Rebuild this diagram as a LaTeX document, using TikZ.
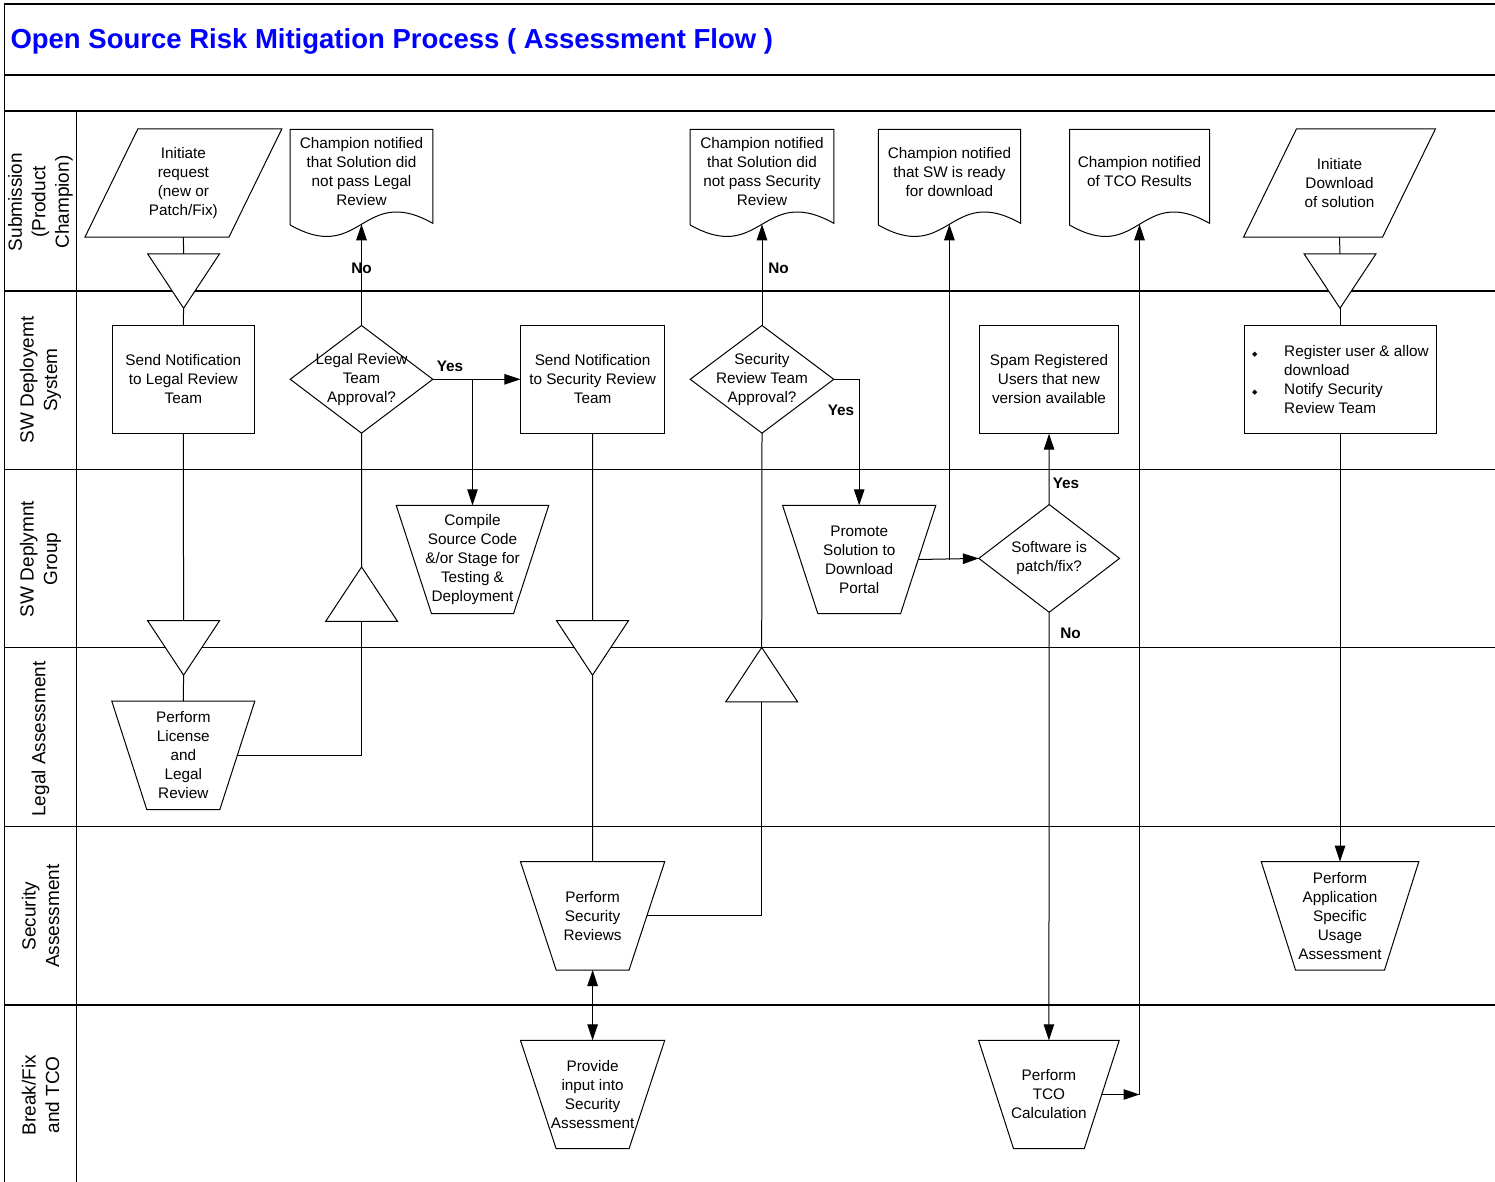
\documentclass[tikz,border=0pt]{standalone}
\usepackage{fontspec}
\setmainfont{Liberation Sans}
\newfontfamily\symfont{DejaVu Sans}
\usetikzlibrary{arrows.meta,calc}

\newcommand{\bul}{\makebox[33pt][l]{\hspace{1pt}\symfont\fontsize{7}{7}\selectfont ◆}}
\newcommand{\indentline}{\hspace*{33pt}}

% outlines drawn round plain rectangle nodes
\newcommand{\docline}[1]{%
  \draw (#1.north west) -- (#1.north east) -- ($(#1.north east)+(0,94)$)
    .. controls ($(#1.north)+(0,54)$) and ($(#1.north)+(0,136)$) .. ($(#1.north west)+(0,95.7)$) -- cycle;
  \coordinate (#1-tip) at ($(#1.north)+(0,95)$);}
\newcommand{\trapline}[2]{%
  \draw (#1.north west) -- (#1.north east) -- ($(#1.south east)+(-#2,0)$) -- ($(#1.south west)+(#2,0)$) -- cycle;
  \coordinate (#1-e) at ($(#1.east)+(-#2/2,0)$);}
\newcommand{\slantline}[2]{%
  \draw ($(#1.north west)+(#2,0)$) -- ($(#1.north east)+(#2,0)$) -- ($(#1.south east)+(-#2,0)$) -- ($(#1.south west)+(-#2,0)$) -- cycle;}
\newcommand{\diamline}[1]{\draw (#1.north) -- (#1.east) -- (#1.south) -- (#1.west) -- cycle;}
\newcommand{\downtri}[1]{\filldraw[fill=white] (#1.north west) -- (#1.north east) -- (#1.south) -- cycle;}
\newcommand{\uptri}[1]{\filldraw[fill=white] (#1.south west) -- (#1.south east) -- (#1.north) -- cycle;}

\tikzset{
  lanerule/.style={line width=1.5pt},
  body/.style={font=\fontsize{15.3}{19}\selectfont},
  shapebox/.style={body, inner sep=0pt, align=center, minimum height=107.4pt},
  tribox/.style={inner sep=0pt, minimum width=71pt, minimum height=53.5pt},
  answer/.style={font=\fontsize{15.3}{19}\selectfont\bfseries},
  lanename/.style={rotate=90, align=center, font=\fontsize{19}{23.5}\selectfont},
  flow/.style={-{Triangle[length=16pt,width=10.5pt]}},
}

\begin{document}
\begin{tikzpicture}[x=1pt, y=-1pt, line width=1pt]
  \useasboundingbox (0,0) rectangle (1495,1182);
  % Frame and lanes
  \draw[lanerule] (4.5,1182) -- (4.5,4) -- (1495,4);
  \foreach \y in {75,111,291,469.3,647.7,826.7,1005}
    \draw[lanerule] (4.5,\y) -- (1495,\y);
  \draw[lanerule] (76.3,111) -- (76.3,1182);

  % Title
  \node[anchor=base west, inner sep=0pt, text=blue, font=\fontsize{27.5}{32}\selectfont\bfseries] (title) at (10,48.5)
    {Open Source Risk Mitigation Process ( Assessment Flow )};

  % Lane names
  \node[lanename] (lane1) at (40.5,202) {Submission\\(Product\\Champion)};
  \node[lanename] (lane2) at (40.5,380) {SW Deployemt\\System};
  \node[lanename] (lane3) at (40.5,559) {SW Deplymnt\\Group};
  \node[lanename] (lane4) at (40.5,739) {Legal Assessment};
  \node[lanename] (lane5) at (40.5,916) {Security\\Assessment};
  \node[lanename] (lane6) at (40.5,1095) {Break/Fix\\and TCO};

  % Submission
  \node[shapebox, minimum width=143pt] (initreq) at (183.4,183) {Initiate\\request\\(new or\\Patch/Fix)};
  \slantline{initreq}{26.5}
  \node[shapebox, anchor=north, minimum height=84pt, minimum width=141.6pt] (legaldoc) at (361.5,129.3)
    {Champion notified\\that Solution did\\not pass Legal\\Review};
  \docline{legaldoc}
  \node[shapebox, anchor=north, minimum height=84pt, minimum width=142.6pt] (secdoc) at (762,129.3)
    {Champion notified\\that Solution did\\not pass Security\\Review};
  \docline{secdoc}
  \node[shapebox, anchor=north, minimum height=84pt, minimum width=141.3pt] (readydoc) at (949.4,129.3)
    {Champion notified\\that SW is ready\\for download};
  \docline{readydoc}
  \node[shapebox, anchor=north, minimum height=84pt, minimum width=139pt] (tcodoc) at (1139.5,129.3)
    {Champion notified\\of TCO Results};
  \docline{tcodoc}
  \node[shapebox, minimum width=138pt] (initdl) at (1339.5,183) {Initiate\\Download\\of solution};
  \slantline{initdl}{26.5}
  \node[tribox] (merge1) at (183.6,281) {}; \downtri{merge1}
  \node[tribox] (merge2) at (1340,281) {}; \downtri{merge2}

  % SW deployment system
  \node[shapebox, draw, minimum width=142pt] (sendlegal) at (183.3,379.5) {Send Notification\\to Legal Review\\Team};
  \node[shapebox, minimum width=141.6pt, minimum height=106.7pt] (legalq) at (361.5,379.3) {Legal Review\\Team\\Approval?};
  \diamline{legalq}
  \node[shapebox, draw, minimum width=143.3pt] (sendsec) at (592.6,379.5) {Send Notification\\to Security Review\\Team};
  \node[shapebox, minimum width=142.6pt, minimum height=106.7pt] (secq) at (762,379.3) {Security\\Review Team\\Approval?};
  \diamline{secq}
  \node[shapebox, draw, minimum width=139.7pt] (spam) at (1049,379.5) {Spam Registered\\Users that new\\version available};
  \node[shapebox, draw, minimum width=192pt, align=left] (register) at (1340,379.5)
    {\bul Register user \& allow\\\indentline download\\\bul Notify Security\\\indentline Review Team};

  % SW deployment group
  \node[shapebox, minimum width=151.6pt] (compile) at (472.5,559.5) {Compile\\Source Code\\\&/or Stage for\\Testing \&\\Deployment};
  \trapline{compile}{35.3}
  \node[shapebox, minimum width=152.3pt] (promote) at (859.2,559.5) {Promote\\Solution to\\Download\\Portal};
  \trapline{promote}{35.3}
  \node[shapebox, minimum width=139.7pt, minimum height=106.7pt] (patchq) at (1049.2,558.4) {Software is\\patch/fix?};
  \diamline{patchq}
  \node[tribox] (back1) at (361.6,594.2) {}; \uptri{back1}
  \node[tribox] (merge3) at (183.6,647.9) {}; \downtri{merge3}
  \node[tribox] (merge4) at (592.5,647.9) {}; \downtri{merge4}
  \node[tribox] (back2) at (761.7,674.7) {}; \uptri{back2}

  % Assessments
  \node[shapebox, minimum width=142pt] (legalrev) at (183.3,755.4) {Perform\\License\\and\\Legal\\Review};
  \trapline{legalrev}{35}
  \node[shapebox, minimum width=143.3pt] (secrev) at (592.6,915.8) {Perform\\Security\\Reviews};
  \trapline{secrev}{35.7}
  \node[shapebox, minimum width=156.6pt] (appuse) at (1340,915.8) {Perform\\Application\\Specific\\Usage\\Assessment};
  \trapline{appuse}{34.3}
  \node[shapebox, minimum width=143.3pt] (secinput) at (592.6,1094.5) {Provide\\input into\\Security\\Assessment};
  \trapline{secinput}{35.7}
  \node[shapebox, minimum width=139.7pt] (tcocalc) at (1048.9,1094.5) {Perform\\TCO\\Calculation};
  \trapline{tcocalc}{35}

  % Connectors
  \draw (initreq.south) -- (merge1.north);
  \draw (merge1.south) -- (sendlegal.north);
  \draw (sendlegal.south) -- (merge3.north);
  \draw (merge3.south) -- (legalrev.north);
  \draw (legalrev-e) -| (back1.south);
  \draw (back1.north) -- (legalq.south);
  \draw[flow] (legalq.north) -- (legaldoc-tip);
  \draw[flow] (legalq.east) -- (legalq.east -| sendsec.west);
  \draw[flow] (legalq.east -| compile.north) -- (compile.north);
  \draw (sendsec.south) -- (merge4.north);
  \draw (merge4.south) -- (secrev.north);
  \draw (secrev-e) -| (back2.south);
  \draw (back2.north) -- (secq.south);
  \draw[flow] (secq.north) -- (secdoc-tip);
  \draw[flow] (secq.east) -| (promote.north);
  \draw[flow] (promote-e) -- (patchq.west);
  \draw[flow] (promote-e -| readydoc-tip) -- (readydoc-tip);
  \draw[flow] (patchq.north) -- (spam.south);
  \draw[flow] (patchq.south) -- (tcocalc.north);
  \coordinate (tcoturn) at (tcocalc-e -| tcodoc-tip);
  \draw[flow] (tcocalc-e) -- (tcoturn);
  \draw[flow] (tcoturn) -- (tcodoc-tip);
  \draw[{Triangle[length=16pt,width=10.5pt]}-{Triangle[length=16pt,width=10.5pt]}] (secrev.south) -- (secinput.north);
  \draw (initdl.south) -- (merge2.north);
  \draw (merge2.south) -- (register.north);
  \draw[flow] (register.south) -- (appuse.north);

  % Branch labels
  \node[answer] (no1) at (361.5,268) {No};
  \node[answer] (yes1) at (450,366) {Yes};
  \node[answer] (no2) at (778.5,268) {No};
  \node[answer] (yes2) at (841,410.5) {Yes};
  \node[answer] (yes3) at (1066,483) {Yes};
  \node[answer] (no3) at (1070.5,633.5) {No};
\end{tikzpicture}
\end{document}
